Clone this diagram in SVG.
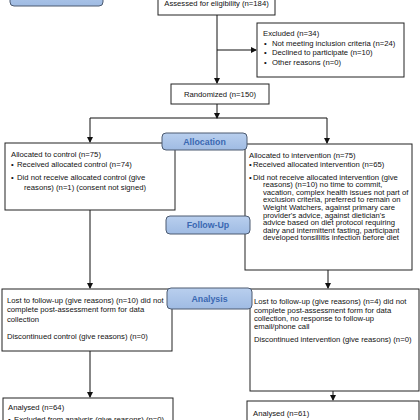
<svg xmlns="http://www.w3.org/2000/svg" width="420" height="420" viewBox="0 0 420 420">
<defs>
<marker id="ah" markerWidth="6" markerHeight="6" refX="5" refY="3" orient="auto" markerUnits="userSpaceOnUse">
<path d="M0,0 L6,3 L0,6 Z" fill="#111"/>
</marker>
<linearGradient id="lb" x1="0" y1="0" x2="0" y2="1">
<stop offset="0" stop-color="#b9cfee"/>
<stop offset="1" stop-color="#9fbbe3"/>
</linearGradient>
<style>
.box{fill:#fff;stroke:#222;stroke-width:1}
.lab{fill:url(#lb);stroke:#4c5a70;stroke-width:1}
.t{font-family:"Liberation Sans",Arial,sans-serif;font-size:7.7px;fill:#111}
.lt{font-family:"Liberation Sans",Arial,sans-serif;font-size:8.8px;font-weight:bold;fill:#3a68b2;text-anchor:middle}
.c{fill:none;stroke:#111;stroke-width:1}
</style>
</defs>
<rect width="420" height="420" fill="#fff"/>

<g id="connectors">
<path class="c" d="M217,15 V83" marker-end="url(#ah)"/>
<path class="c" d="M217,50 H256" marker-end="url(#ah)"/>
<path class="c" d="M217,104 V118" marker-end="url(#ah)"/>
<path class="c" d="M90,118 H327"/>
<path class="c" d="M90,118 V142" marker-end="url(#ah)"/>
<path class="c" d="M327,118 V143" marker-end="url(#ah)"/>
<path class="c" d="M90,210 V288" marker-end="url(#ah)"/>
<path class="c" d="M328,270 V288" marker-end="url(#ah)"/>
<path class="c" d="M90,351 V397" marker-end="url(#ah)"/>
<path class="c" d="M333,391 V400" marker-end="url(#ah)"/>
</g>

<g id="enrollment">
<rect class="lab" x="10" y="-15" width="93" height="21" rx="4"/>
</g>

<g id="assessed">
<rect class="box" x="158" y="-5" width="117" height="20"/>
<text class="t" x="216.5" y="6" text-anchor="middle">Assessed for eligibility (n=184)</text>
</g>

<g id="excluded">
<rect class="box" x="257" y="23" width="147" height="54"/>
<text class="t" x="263" y="35.5">Excluded (n=34)</text>
<text class="t" x="264" y="45.5">•</text><text class="t" x="272" y="45.5">Not meeting inclusion criteria (n=24)</text>
<text class="t" x="264" y="55">•</text><text class="t" x="272" y="55">Declined to participate (n=10)</text>
<text class="t" x="264" y="64.5">•</text><text class="t" x="272" y="64.5">Other reasons (n=0)</text>
</g>

<g id="randomized">
<rect class="box" x="171" y="84" width="98" height="20"/>
<text class="t" x="220" y="97" text-anchor="middle">Randomized (n=150)</text>
</g>

<g id="control-allocation">
<rect class="box" x="5" y="143" width="170" height="67"/>
<text class="t" x="11" y="156.5">Allocated to control (n=75)</text>
<text class="t" x="11" y="166.5">•</text><text class="t" x="17" y="166.5">Received allocated control (n=74)</text>
<text class="t" x="11" y="179.5">•</text><text class="t" x="17" y="179.5">Did not receive allocated control (give</text>
<text class="t" x="24" y="189.5">reasons) (n=1) (consent not signed)</text>
</g>

<g id="intervention-allocation">
<rect class="box" x="245" y="144" width="167" height="126"/>
<text class="t" x="249" y="157.5">Allocated to intervention (n=75)</text>
<text class="t" x="249" y="167">•</text><text class="t" x="253" y="167">Received allocated intervention (n=65)</text>
<text class="t" x="249" y="179.5">•</text><text class="t" x="253" y="179.5">Did not receive allocated intervention (give</text>
<text class="t" x="263" y="187.2">reasons) (n=10) no time to commit,</text>
<text class="t" x="263" y="194.8">vacation, complex health issues not part of</text>
<text class="t" x="263" y="202.4">exclusion criteria, preferred to remain on</text>
<text class="t" x="263" y="210">Weight Watchers, against primary care</text>
<text class="t" x="263" y="217.6">provider's advice, against dietician's</text>
<text class="t" x="263" y="225.2">advice based on diet protocol requiring</text>
<text class="t" x="263" y="232.8">dairy and intermittent fasting, participant</text>
<text class="t" x="263" y="240.4">developed tonsillitis infection before diet</text>
</g>

<g id="allocation-label">
<rect class="lab" x="162" y="133" width="85" height="17" rx="4"/>
<text class="lt" x="204.5" y="144.7">Allocation</text>
</g>

<g id="followup-label">
<rect class="lab" x="166" y="216" width="84" height="18" rx="4"/>
<text class="lt" x="208" y="228.2">Follow-Up</text>
</g>

<g id="control-followup">
<rect class="box" x="2" y="289" width="170" height="62"/>
<text class="t" x="7" y="302.5">Lost to follow-up (give reasons) (n=10) did not</text>
<text class="t" x="7" y="312">complete post-assessment form for data</text>
<text class="t" x="7" y="321.5">collection</text>
<text class="t" x="7" y="339">Discontinued control (give reasons) (n=0)</text>
</g>

<g id="intervention-followup">
<rect class="box" x="250" y="289" width="169" height="102"/>
<text class="t" x="254" y="304">Lost to follow-up (give reasons) (n=4) did not</text>
<text class="t" x="254" y="312.5">complete post-assessment form for data</text>
<text class="t" x="254" y="321">collection, no response to follow-up</text>
<text class="t" x="254" y="329">email/phone call</text>
<text class="t" x="254" y="341.5">Discontinued intervention (give reasons) (n=0)</text>
</g>

<g id="analysis-label">
<rect class="lab" x="167" y="288" width="85" height="21" rx="4"/>
<text class="lt" x="209.5" y="301.7">Analysis</text>
</g>

<g id="control-analysis">
<rect class="box" x="3" y="398" width="170" height="30"/>
<text class="t" x="8" y="410">Analysed (n=64)</text>
<text class="t" x="8" y="421.5">•</text><text class="t" x="14" y="421.5">Excluded from analysis (give reasons) (n=0)</text>
</g>

<g id="intervention-analysis">
<rect class="box" x="247" y="401" width="172" height="30"/>
<text class="t" x="253" y="415.5">Analysed (n=61)</text>
<text class="t" x="253" y="425">•</text><text class="t" x="259" y="425">Excluded from analysis (give reasons) (n=0)</text>
</g>
</svg>
